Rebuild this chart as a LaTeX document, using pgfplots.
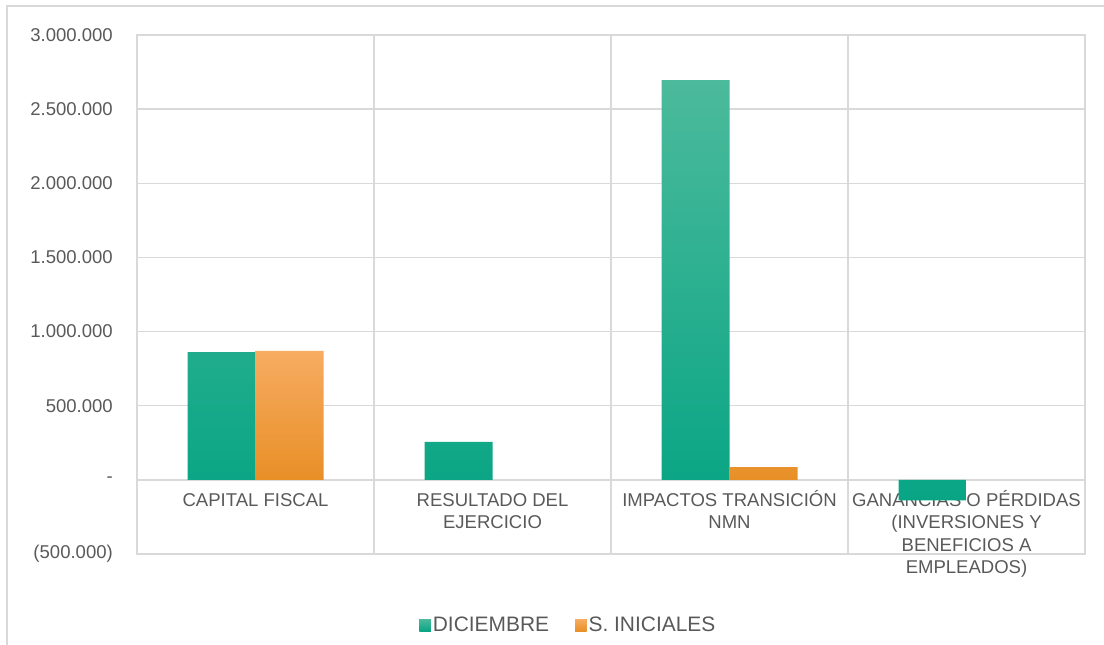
\documentclass[border=0pt]{standalone}
\usepackage{fontspec}
\setmainfont{Liberation Sans}
\usepackage{pgfplots}
\pgfplotsset{compat=1.18}
\definecolor{gridc}{HTML}{D9D9D9}
\definecolor{txt}{HTML}{595959}
\definecolor{tealT}{HTML}{4CBA9C}
\definecolor{tealM}{HTML}{12B493}
\definecolor{tealB}{HTML}{08A584}
\definecolor{orT}{HTML}{F7AC61}
\definecolor{orM}{HTML}{FDA43A}
\definecolor{orB}{HTML}{E88F27}
\begin{document}
\begin{tikzpicture}[x=1bp,y=1bp]
\useasboundingbox (0,0) rectangle (1104,645);
\draw[gridc, line width=1.5bp] (7,0) -- (7,639) -- (1104,639);
\begin{axis}[
  at={(137bp,91bp)}, anchor=south west,
  scale only axis, width=948bp, height=519bp,
  xmin=-0.5, xmax=3.5, ymin=-500000, ymax=3000000,
  ybar, bar width=68bp,
  xtick={0,1,2,3},
  xticklabels={{\rule{0pt}{18bp}CAPITAL FISCAL},{\rule{0pt}{18bp}RESULTADO DEL\\EJERCICIO},{\rule{0pt}{18bp}IMPACTOS TRANSICIÓN\\NMN},{\rule{0pt}{18bp}GANANCIAS O PÉRDIDAS\\(INVERSIONES Y\\BENEFICIOS A\\EMPLEADOS)}},
  minor xtick={0.5,1.5,2.5},
  xminorgrids=true, xmajorgrids=false, ymajorgrids=true,
  ytick={-500000,0,500000,1000000,1500000,2000000,2500000,3000000},
  yticklabels={(500.000),-,500.000,1.000.000,1.500.000,2.000.000,2.500.000,3.000.000},
  scaled y ticks=false,
  major tick length=0pt, minor tick length=0pt,
  tick style={draw=none},
  axis line style={gridc, line width=1.5bp},
  grid style={gridc, line width=1.5bp},
  minor grid style={gridc, line width=1.5bp},
  yticklabel style={font=\fontsize{18.6}{22.5}\selectfont, text=txt, anchor=east, inner sep=0pt, xshift=-24bp},
  xticklabel style={font=\fontsize{18.6}{22.5}\selectfont, text=txt, anchor=north, inner sep=0pt, align=center, yshift=66bp},
  legend style={at={(0.455,-0.137)}, anchor=center, draw=none, fill=none, inner sep=0pt,
    font=\fontsize{21}{25}\selectfont, text=txt,
    /tikz/every even column/.append style={column sep=24bp},
    nodes={inner sep=2bp}},
  legend columns=2,
  legend cell align=left,
]
\addplot[draw=none, top color=tealT, middle color=tealM, bottom color=tealB, bar shift=-34bp,
  legend image code/.code={\fill[tealM] (0bp,-6bp) rectangle (11.5bp,6bp);}]
  coordinates {(0,862000) (1,256000) (2,2695000) (3,-138000)};
\addlegendentry{DICIEMBRE}
\addplot[draw=none, top color=orT, middle color=orM, bottom color=orB, bar shift=34bp,
  legend image code/.code={\fill[orM] (0bp,-6bp) rectangle (11.5bp,6bp);}]
  coordinates {(0,869000) (2,86000)};
\addlegendentry{S. INICIALES}
\end{axis}
\end{tikzpicture}
\end{document}
